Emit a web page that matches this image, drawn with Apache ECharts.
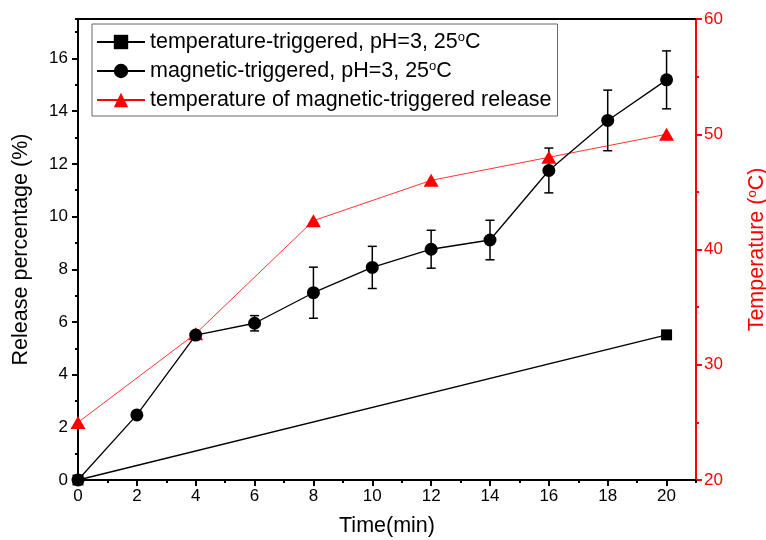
<!DOCTYPE html>
<html>
<head>
<meta charset="utf-8">
<script src="https://cdn.jsdelivr.net/npm/echarts@6/dist/echarts.min.js"></script>
<style>
  html, body { margin: 0; padding: 0; background: #fff; }
  #chart_release { width: 766px; height: 540px; }
</style>
</head>
<body>
<div id="chart_release"></div>
<script>
// data
var timeMag = [0, 2, 4, 6, 8, 10, 12, 14, 16, 18, 20];
var releaseMag = [0, 2.47, 5.5, 5.95, 7.11, 8.07, 8.76, 9.11, 11.75, 13.65, 15.19];
var errMag = [0, 0, 0, 0.29, 0.97, 0.8, 0.72, 0.75, 0.85, 1.15, 1.1];

var timeTemp = [0, 20];
var releaseTemp = [0, 5.51];

var timeT = [0, 4, 8, 12, 16, 20];
var tempT = [25, 32.7, 42.5, 46, 48, 50];

var nameTemp = 'temperature-triggered, pH=3, 25°C';
var nameMag = 'magnetic-triggered, pH=3, 25°C';
var nameT = 'temperature of magnetic-triggered release';

var fontFam = '"Liberation Sans", Arial, sans-serif';

function pairs(xs, ys) {
    var out = [];
    for (var i = 0; i < xs.length; i++) {
        out.push([xs[i], ys[i]]);
    }
    return out;
}

var errData = [];
for (var i = 0; i < timeMag.length; i++) {
    errData.push([timeMag[i], releaseMag[i] - errMag[i], releaseMag[i] + errMag[i]]);
}

var chart_release = echarts.init(document.getElementById('chart_release'));

var option = {
    animation: false,
    textStyle: { fontFamily: fontFam },
    grid: {
        left: 78,
        right: 70,
        top: 19,
        bottom: 60,
        containLabel: false,
        outerBoundsMode: 'none'
    },
    legend: {
        orient: 'vertical',
        left: 92,
        top: 24,
        padding: [7, 6, 5, 4],
        itemGap: 7,
        itemWidth: 48,
        itemHeight: 18,
        borderColor: '#666',
        borderWidth: 1,
        data: [nameTemp, nameMag, nameT],
        textStyle: {
            fontSize: 21.5,
            color: '#000',
            fontFamily: fontFam,
            rich: {
                sup: { fontSize: 13, verticalAlign: 'top', fontFamily: fontFam, color: '#000' }
            }
        },
        formatter: function (name) {
            return name.replace('°C', '{sup|o}C');
        }
    },
    xAxis: [
        {
            type: 'value',
            min: 0,
            max: 21,
            interval: 2,
            name: 'Time(min)',
            nameLocation: 'middle',
            nameGap: 35,
            nameTextStyle: { fontSize: 21.5, color: '#000' },
            axisLine: { onZero: false, lineStyle: { color: '#000', width: 2 } },
            axisTick: { inside: false, length: 6, lineStyle: { color: '#000', width: 2 } },
            axisLabel: {
                fontSize: 17,
                color: '#000',
                margin: 8,
                showMaxLabel: false
            },
            splitLine: { show: false }
        },
        {
            // top frame line
            type: 'value',
            position: 'top',
            min: 0,
            max: 21,
            axisLine: { onZero: false, lineStyle: { color: '#000', width: 2 } },
            axisTick: { show: false },
            axisLabel: { show: false },
            splitLine: { show: false }
        },
        {
            // minor ticks on time axis
            type: 'value',
            position: 'bottom',
            min: 0,
            max: 21,
            interval: 1,
            axisLine: { show: false, onZero: false },
            axisTick: { length: 3, lineStyle: { color: '#000', width: 2 } },
            axisLabel: { show: false },
            splitLine: { show: false }
        }
    ],
    yAxis: [
        {
            type: 'value',
            min: 0,
            max: 17.5,
            interval: 2,
            position: 'left',
            name: 'Release percentage (%)',
            nameLocation: 'middle',
            nameGap: 46,
            nameTextStyle: { fontSize: 21.5, color: '#000' },
            axisLine: { show: true, onZero: false, lineStyle: { color: '#000', width: 2 } },
            axisTick: { show: true, length: 6, lineStyle: { color: '#000', width: 2 } },
            axisLabel: { fontSize: 17, color: '#000', margin: 10, showMaxLabel: false },
            splitLine: { show: false }
        },
        {
            type: 'value',
            min: 20,
            max: 60,
            interval: 10,
            position: 'right',
            name: 'Temperature ({sup|o}C)',
            nameLocation: 'middle',
            nameGap: 50,
            nameRotate: 90,
            nameTextStyle: {
                fontSize: 21.5,
                color: '#f00',
                rich: {
                    sup: { fontSize: 13, verticalAlign: 'top', color: '#f00', fontFamily: fontFam }
                }
            },
            axisLine: { show: true, onZero: false, lineStyle: { color: '#f00', width: 2 } },
            axisTick: { show: true, length: 6, lineStyle: { color: '#f00', width: 2 } },
            minorTick: { show: true, splitNumber: 2, length: 3, lineStyle: { color: '#f00', width: 2 } },
            axisLabel: { fontSize: 17, color: '#f00', margin: 8 },
            splitLine: { show: false }
        },
        {
            // minor ticks on release axis
            type: 'value',
            min: 0,
            max: 17.5,
            interval: 1,
            position: 'left',
            axisLine: { show: false, onZero: false },
            axisTick: { show: true, length: 3, lineStyle: { color: '#000', width: 2 } },
            axisLabel: { show: false },
            splitLine: { show: false }
        }
    ],
    series: [
        {
            name: 'err',
            type: 'custom',
            xAxisIndex: 0,
            yAxisIndex: 0,
            z: 1,
            silent: true,
            renderItem: function (params, api) {
                var lo = api.coord([api.value(0), api.value(1)]);
                var hi = api.coord([api.value(0), api.value(2)]);
                var w = 4.5;
                var st = { stroke: '#000', lineWidth: 1.5 };
                return {
                    type: 'group',
                    children: [
                        { type: 'line', shape: { x1: lo[0], y1: lo[1], x2: hi[0], y2: hi[1] }, style: st },
                        { type: 'line', shape: { x1: lo[0] - w, y1: lo[1], x2: lo[0] + w, y2: lo[1] }, style: st },
                        { type: 'line', shape: { x1: hi[0] - w, y1: hi[1], x2: hi[0] + w, y2: hi[1] }, style: st }
                    ]
                };
            },
            encode: { x: 0, y: [1, 2] },
            data: errData
        },
        {
            name: nameTemp,
            type: 'line',
            xAxisIndex: 0,
            yAxisIndex: 0,
            z: 3,
            symbol: 'rect',
            symbolSize: 11,
            showAllSymbol: true,
            lineStyle: { color: '#000', width: 1.3 },
            itemStyle: { color: '#000' },
            data: pairs(timeTemp, releaseTemp)
        },
        {
            name: nameMag,
            type: 'line',
            xAxisIndex: 0,
            yAxisIndex: 0,
            z: 4,
            symbol: 'circle',
            symbolSize: 13,
            showAllSymbol: true,
            lineStyle: { color: '#000', width: 1.3 },
            itemStyle: { color: '#000' },
            data: pairs(timeMag, releaseMag)
        },
        {
            name: nameT,
            type: 'line',
            xAxisIndex: 0,
            yAxisIndex: 1,
            z: 2,
            symbol: 'triangle',
            symbolSize: [15, 13],
            showAllSymbol: true,
            lineStyle: { color: '#f00', width: 0.8 },
            itemStyle: { color: '#f00' },
            data: pairs(timeT, tempT)
        }
    ]
};

chart_release.setOption(option);
</script>
</body>
</html>
